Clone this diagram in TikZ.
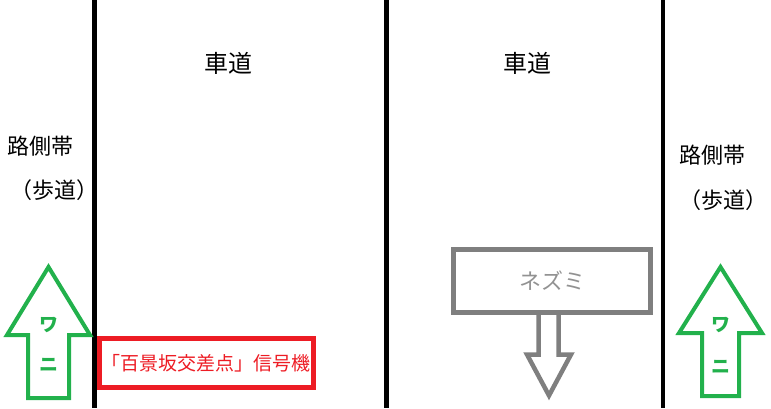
\documentclass[tikz,border=0pt]{standalone}
\usepackage{fontspec}
\setmainfont{Noto Sans CJK JP}
\usepackage{tikz}
\usetikzlibrary{positioning}
\definecolor{wanigreen}{HTML}{22B14C}
\definecolor{signalred}{HTML}{ED1C24}
\definecolor{mousegray}{HTML}{7F7F7F}

\begin{document}
\begin{tikzpicture}[x=1pt,y=-1pt,line join=miter]
    \tikzstyle{lane}=[line width=4.5pt,black]
    \tikzstyle{road}=[inner sep=0pt,font=\fontsize{24}{28}\selectfont]
    \tikzstyle{side}=[inner sep=0pt,font=\fontsize{22}{26}\selectfont]
    \tikzstyle{wani}=[draw=wanigreen,line width=4pt]
    \tikzstyle{kana}=[inner sep=0pt,text=wanigreen,font=\fontsize{19}{22}\selectfont\bfseries]
    \useasboundingbox (0,0) rectangle (771,408);
    % lane lines
    \draw[lane] (94.5,0) -- (94.5,408);
    \draw[lane] (386.5,0) -- (386.5,408);
    \draw[lane] (663,0) -- (663,408);
    % labels
    \node[road](road1) at (228,63){車道};
    \node[road](road2) at (527,63){車道};
    \node[side](side1) at (41,146){路側帯};
    \node[side](walk1) at (54,190){（歩道）};
    \node[side](side2) at (712,155){路側帯};
    \node[side](walk2) at (723,200){（歩道）};
    % crocodiles
    \draw[wani] (48.5,267) -- (90,335) -- (69,335) -- (69,398) -- (28,398)
      -- (28,335) -- (7,335) -- cycle;
    \node[kana](wa1) at (48.5,325){ワ};
    \node[kana](ni1) at (48.5,365){ニ};
    \draw[wani] (720.5,267) -- (762,333) -- (739,333) -- (739,396) -- (702,396)
      -- (702,333) -- (679,333) -- cycle;
    \node[kana](wa2) at (721,325){ワ};
    \node[kana](ni2) at (721,367){ニ};
    % signal
    \node[draw=signalred,line width=5pt,outer sep=0pt,minimum width=214pt,
      minimum height=48.5pt,text=signalred,inner sep=0pt,
      font=\fontsize{19}{22}\selectfont](signal) at (206,363){「百景坂交差点」信号機};
    % mouse
    \node[draw=mousegray,line width=5pt,outer sep=0pt,minimum width=197pt,
      minimum height=63pt,text=mousegray!85,inner sep=0pt,
      font=\fontsize{22}{26}\selectfont](mouse) at (552,280.5){ネズミ};
    \draw[mousegray,line width=4.5pt] ([xshift=-13.3pt]mouse.south) -- ++(0,42.5)
      -- ++(-11.7,0) -- ++(22,41) -- ++(22,-41) -- ++(-12.3,0)
      -- ([xshift=6.7pt]mouse.south);
\end{tikzpicture}
\end{document}
